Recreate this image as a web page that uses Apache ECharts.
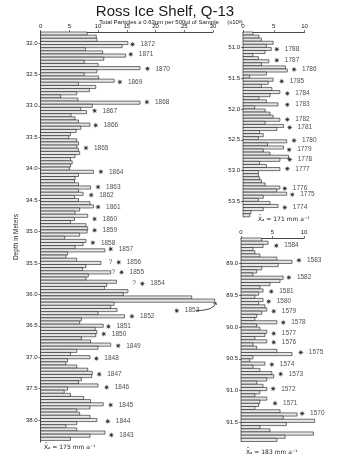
<!DOCTYPE html>
<html>
<head>
<meta charset="utf-8">
<script src="https://cdn.jsdelivr.net/npm/echarts@6/dist/echarts.min.js"></script>
<style>
  html, body { margin: 0; padding: 0; background: #fff; }
  #chart { width: 350px; height: 457px; }
</style>
</head>
<body>
<div id="chart"></div>
<script>
// Particle counts (x10^3 per 500 µl) in depth bins of 0.05 m
const leftStart = 31.825;
const leftValues = [
  8.1, 9.7, 9.8, 15.2, 14.2, 7.8, 10.8, 14.8, 11.0, 7.6, 10.0, 17.3, 9.8, 7.6, 10.1, 12.8,
  6.6, 9.6, 8.5, 6.3, 3.5, 6.5, 17.3, 9.0, 7.0, 8.0, 5.3, 6.0, 6.6, 8.6, 7.0, 6.2,
  5.2, 4.9, 6.3, 6.6, 6.3, 6.6, 6.8, 6.0, 5.2, 5.5, 5.2, 5.0, 9.2, 6.6, 6.0, 5.9,
  6.6, 8.7, 6.6, 7.4, 5.9, 6.6, 8.6, 9.2, 6.8, 6.0, 8.2, 5.9, 5.2, 7.9, 8.2,
  8.1, 6.8, 4.2, 7.9, 7.4, 6.0, 11.2, 4.7, 4.4, 6.3, 10.5, 7.9, 7.3, 12.2, 8.3, 7.9,
  13.2, 11.5, 11.1, 15.2, 14.4, 26.3, 30.3, 12.8, 12.2, 13.3, 10.0, 14.6, 7.1, 6.8, 10.9, 9.5,
  9.8, 9.6, 7.1, 8.7, 12.2, 10.0, 6.3, 5.2, 8.6, 4.7, 4.4, 6.3, 8.2, 9.0, 8.9, 7.1,
  6.6, 10.0, 4.7, 4.1, 5.2, 7.5, 8.7, 10.9, 8.6, 6.3, 6.8, 8.6, 9.8, 6.3, 4.4, 6.3,
  11.2, 8.6, 5.2
];
const topRightStart = 50.75;
const topRightValues = [
  1.6, 2.6, 3.0, 4.9, 3.8, 4.6, 3.6, 1.6, 2.5, 4.2, 3.0, 6.9, 7.2, 3.8, 1.1, 4.9,
  4.1, 3.0, 4.7, 6.0, 4.4, 2.6, 3.8, 5.7, 1.9, 3.6, 4.4, 4.9, 6.0, 3.6, 6.6, 5.5,
  2.7, 3.3, 2.5, 7.1, 4.0, 6.6, 3.3, 4.4, 7.4, 6.0, 2.7, 3.8, 6.0, 2.5, 2.5, 2.7,
  3.0, 3.6, 6.0, 5.5, 7.1, 3.3, 2.5, 4.4, 5.7, 3.3, 1.3, 1.1
];
const bottomRightStart = 88.6;
const bottomRightValues = [
  3.3, 4.3, 3.5, 1.9, 2.2, 3.0, 5.7, 8.1, 5.9, 3.3, 2.5, 1.9, 6.7, 6.2, 4.6, 3.0,
  3.5, 2.8, 2.2, 3.5, 2.8, 3.8, 4.1, 3.3, 2.5, 2.2, 5.7, 2.5, 3.0, 4.1, 3.8, 2.2,
  4.1, 1.9, 2.5, 5.7, 8.1, 1.9, 1.4, 3.8, 1.9, 3.0, 4.9, 5.2, 4.1, 2.5, 3.5, 4.1,
  3.0, 2.2, 4.1, 3.0, 2.8, 2.2, 6.2, 8.9, 6.7, 11.7, 7.2, 3.0, 4.6, 11.5, 7.0, 5.7
];
const binStep = 0.05;

// depth tick labels
const leftTicks = [32.0, 32.5, 33.0, 33.5, 34.0, 34.5, 35.0, 35.5, 36.0, 36.5, 37.0, 37.5, 38.0];
const topRightTicks = [51.0, 51.5, 52.0, 52.5, 53.0, 53.5];
const bottomRightTicks = [89.0, 89.5, 90.0, 90.5, 91.0, 91.5];

// annual layer markers: year, depth, count position
const leftYears = [1872, 1871, 1870, 1869, 1868, 1867, 1866, 1865, 1864, 1863, 1862, 1861, 1860, 1859, 1858,
  1857, 1856, 1855, 1854, 1853, 1852, 1851, 1850, 1849, 1848, 1847, 1846, 1845, 1844, 1843];
const leftYearDepths = [32.02, 32.18, 32.41, 32.62, 32.94, 33.08, 33.31, 33.67, 34.05, 34.29, 34.42, 34.61, 34.80, 34.98, 35.18,
  35.28, 35.49, 35.65, 35.83, 36.26, 36.35, 36.51, 36.63, 36.82, 37.02, 37.27, 37.48, 37.76, 38.02, 38.24];
const leftYearCounts = [16.0, 15.7, 18.6, 13.8, 18.5, 9.4, 9.6, 7.9, 10.5, 10.0, 8.8, 10.0, 9.4, 9.4, 9.1,
  12.2, 13.6, 14.1, 17.7, 23.7, 15.9, 11.8, 11.0, 13.5, 9.7, 10.2, 11.5, 12.2, 11.7, 12.3];
const uncertainYears = [1856, 1855, 1854];

const topRightYears = [1788, 1787, 1786, 1785, 1784, 1783, 1782, 1781, 1780, 1779, 1778, 1777, 1776, 1775, 1774];
const topRightYearDepths = [51.03, 51.21, 51.36, 51.55, 51.75, 51.93, 52.17, 52.30, 52.51, 52.66, 52.82, 52.97, 53.29, 53.39, 53.60];
const topRightYearCounts = [5.5, 5.5, 8.3, 6.3, 7.2, 7.2, 7.2, 7.6, 8.3, 7.5, 7.6, 7.2, 6.8, 8.0, 6.8];

const bottomRightYears = [1584, 1583, 1582, 1581, 1580, 1579, 1578, 1577, 1576, 1575, 1574, 1573, 1572, 1571, 1570, 1569, 1568];
const bottomRightYearDepths = [88.72, 88.95, 89.22, 89.44, 89.60, 89.75, 89.93, 90.10, 90.24, 90.40, 90.59, 90.74, 90.97, 91.20, 91.36, 91.44, 91.67];
const bottomRightYearCounts = [5.6, 9.2, 7.6, 4.8, 4.4, 5.2, 6.7, 5.2, 5.2, 9.5, 4.9, 6.3, 5.1, 5.4, 9.7, 12.5, 12.4];

// 1853 pointer: from label to the large peak
const arrowFrom = [27.0, 36.26];
const arrowBend = [30.2, 36.26];
const arrowTo = [30.5, 36.13];

const FONT = "Liberation Sans";
const INK = "#1a1a1a";

function bins(start, values) {
  return values.map((v, i) => [start + i * binStep, start + (i + 1) * binStep, v]);
}

function renderBar(params, api) {
  const p0 = api.coord([0, api.value(0)]);
  const p1 = api.coord([api.value(2), api.value(1)]);
  return {
    type: "rect",
    shape: { x: p0[0], y: p0[1], width: p1[0] - p0[0], height: p1[1] - p0[1] },
    style: { fill: "#e6e6e6", stroke: INK, lineWidth: 0.6 },
  };
}

// eight-pointed asterisk
const starPath = "path://M5,0L1.66,0.69L3.54,3.54L0.69,1.66L0,5L-0.69,1.66L-3.54,3.54L-1.66,0.69" +
  "L-5,0L-1.66,-0.69L-3.54,-3.54L-0.69,-1.66L0,-5L0.69,-1.66L3.54,-3.54L1.66,-0.69Z";

function markers(idx, years, depths, counts) {
  return {
    type: "scatter",
    xAxisIndex: idx,
    yAxisIndex: idx,
    symbol: starPath,
    symbolSize: 6,
    itemStyle: { color: "#000" },
    silent: true,
    data: years.map((y, i) => [counts[i], depths[i], y]),
    label: {
      show: true,
      position: "right",
      distance: 5,
      formatter: (p) => String(p.data[2]),
      fontFamily: FONT,
      fontSize: 6.5,
      color: INK,
    },
  };
}

function xAxisFor(idx, max) {
  return {
    gridIndex: idx,
    type: "value",
    position: "top",
    min: 0,
    max: max,
    interval: 5,
    axisLine: { show: true, lineStyle: { color: INK, width: 0.8 } },
    axisTick: { show: true, length: 2, lineStyle: { color: INK, width: 0.6 } },
    axisLabel: { fontFamily: FONT, fontSize: 6, color: INK, margin: 3 },
    splitLine: { show: false },
  };
}

function yAxisFor(idx, min, max, ticks, extra) {
  return Object.assign({
    gridIndex: idx,
    type: "value",
    inverse: true,
    min: min,
    max: max,
    axisLine: { show: true, lineStyle: { color: INK, width: 0.8 } },
    axisTick: { show: true, length: 2, customValues: ticks, lineStyle: { color: INK, width: 0.6 } },
    axisLabel: {
      customValues: ticks,
      formatter: (v) => Number(v).toFixed(1),
      fontFamily: FONT, fontSize: 6, color: INK, margin: 3,
    },
    splitLine: { show: false },
  }, extra || {});
}

const chart = echarts.init(document.getElementById("chart"), null, { renderer: "canvas" });

chart.setOption({
  animation: false,
  backgroundColor: "#fff",
  title: [
    {
      text: "Ross Ice Shelf, Q-13",
      left: 160, top: -1, textAlign: "center",
      textStyle: { fontFamily: FONT, fontSize: 15, fontWeight: "normal", color: INK },
    },
    {
      text: "Total Particles \u2265 0.63\u00b5m per 500\u00b5l of Sample     (x10\u00b3)",
      left: 166, top: 14, textAlign: "center",
      textStyle: { fontFamily: FONT, fontSize: 6, fontWeight: "normal", color: INK },
    },
  ],
  grid: [
    { left: 28, top: 32, width: 185, height: 410 },
    { left: 243, top: 32, width: 61.5, height: 184.8 },
    { left: 241, top: 238, width: 63, height: 203.5 },
  ],
  xAxis: [xAxisFor(0, 30), xAxisFor(1, 10), xAxisFor(2, 10)],
  yAxis: [
    yAxisFor(0, 31.825, 38.35, leftTicks, {
      name: "Depth in Meters",
      nameLocation: "middle",
      nameRotate: 90,
      nameGap: 21,
      nameTextStyle: { fontFamily: FONT, fontSize: 6.5, color: INK },
    }),
    yAxisFor(1, 50.75, 53.75, topRightTicks),
    yAxisFor(2, 88.6, 91.8, bottomRightTicks),
  ],
  series: [
    { type: "custom", xAxisIndex: 0, yAxisIndex: 0, clip: false, silent: true,
      encode: { x: 2, y: [0, 1] }, renderItem: renderBar, data: bins(leftStart, leftValues) },
    { type: "custom", xAxisIndex: 1, yAxisIndex: 1, clip: false, silent: true,
      encode: { x: 2, y: [0, 1] }, renderItem: renderBar, data: bins(topRightStart, topRightValues) },
    { type: "custom", xAxisIndex: 2, yAxisIndex: 2, clip: false, silent: true,
      encode: { x: 2, y: [0, 1] }, renderItem: renderBar, data: bins(bottomRightStart, bottomRightValues) },
    markers(0, leftYears, leftYearDepths, leftYearCounts),
    markers(1, topRightYears, topRightYearDepths, topRightYearCounts),
    markers(2, bottomRightYears, bottomRightYearDepths, bottomRightYearCounts),
    {
      // question marks in front of uncertain years
      type: "scatter", xAxisIndex: 0, yAxisIndex: 0, symbolSize: 1, silent: true,
      itemStyle: { color: "rgba(0,0,0,0)" },
      data: uncertainYears.map((y) => {
        const i = leftYears.indexOf(y);
        return [leftYearCounts[i], leftYearDepths[i]];
      }),
      label: { show: true, position: "left", distance: 6, formatter: "?",
        fontFamily: FONT, fontSize: 6.5, color: INK },
    },
    {
      type: "custom", xAxisIndex: 0, yAxisIndex: 0, clip: false, silent: true,
      data: [[arrowFrom[0], arrowFrom[1]]],
      renderItem: (params, api) => {
        const a = api.coord(arrowFrom);
        const c = api.coord(arrowBend);
        const b = api.coord(arrowTo);
        return {
          type: "group",
          children: [
            { type: "bezierCurve",
              shape: { x1: a[0], y1: a[1], x2: b[0], y2: b[1], cpx1: c[0], cpy1: c[1] },
              style: { stroke: INK, lineWidth: 0.8, fill: null } },
            { type: "polyline",
              shape: { points: [[b[0] - 2.5, b[1] + 1], [b[0], b[1]], [b[0] + 0.5, b[1] + 2.5]] },
              style: { stroke: INK, lineWidth: 0.8, fill: null } },
          ],
        };
      },
    },
  ],
  graphic: [
    { type: "text", left: 44, top: 444,
      style: { text: "X\u0304\u2090 = 175 mm a\u207b\u00b9", fontFamily: "DejaVu Sans", fontSize: 6, fill: INK } },
    { type: "text", left: 258, top: 216,
      style: { text: "X\u0304\u2090 = 171 mm a\u207b\u00b9", fontFamily: "DejaVu Sans", fontSize: 6, fill: INK } },
    { type: "text", left: 246, top: 449,
      style: { text: "X\u0304\u2090 = 183 mm a\u207b\u00b9", fontFamily: "DejaVu Sans", fontSize: 6, fill: INK } },
  ],
});

window.addEventListener("resize", () => chart.resize());
</script>
</body>
</html>
